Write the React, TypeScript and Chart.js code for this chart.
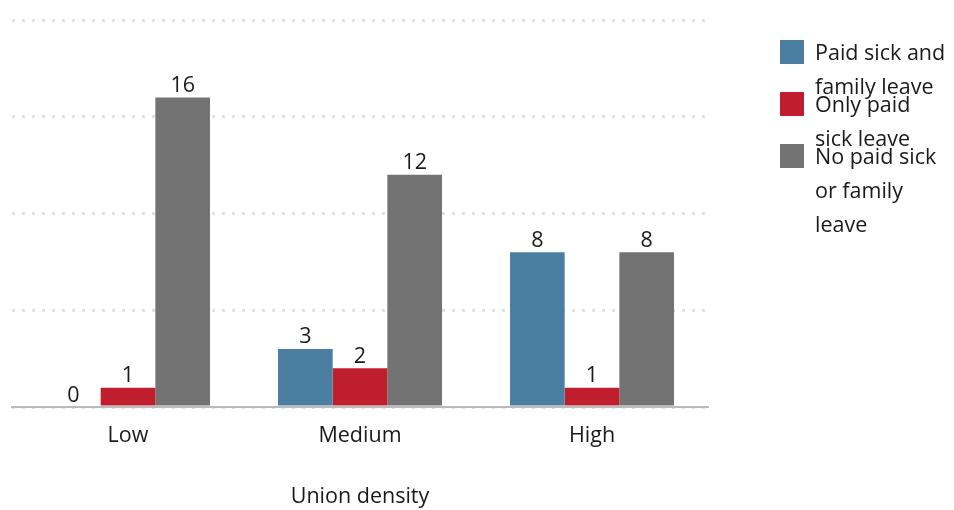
import React, { useEffect, useRef } from "react";
import { Chart, registerables } from "chart.js";

Chart.register(...registerables);

const categories = ["Low", "Medium", "High"];
const paidSickAndFamily = [0, 3, 8];
const onlyPaidSick = [1, 2, 1];
const noPaidLeave = [16, 12, 8];
const seriesNames = ["Paid sick and family leave", "Only paid sick leave", "No paid sick or family leave"];
const legendLines = [["Paid sick and", "family leave"], ["Only paid", "sick leave"], ["No paid sick", "or family", "leave"]];
const colors = ["#4a7fa1", "#bf1e2e", "#737373"];
const axisTitle = "Union density";

const FONT = "'Open Sans', sans-serif";
const TEXT = "#1a1a1a";
const FS = 21.5;

const valueLabels = {
  id: "valueLabels",
  afterDatasetsDraw(chart: any) {
    const ctx = chart.ctx;
    ctx.save();
    ctx.font = `${FS}px ${FONT}`;
    ctx.fillStyle = TEXT;
    ctx.textAlign = "center";
    ctx.textBaseline = "alphabetic";
    chart.data.datasets.forEach((ds: any, di: number) => {
      const meta = chart.getDatasetMeta(di);
      meta.data.forEach((el: any, i: number) => {
        ctx.fillText(String(ds.data[i]), el.x, el.y - 5.5);
      });
    });
    ctx.restore();
  },
};

export default function App() {
  const ref = useRef<HTMLCanvasElement>(null);
  useEffect(() => {
    if (!ref.current) return;
    const chart = new Chart(ref.current, {
      type: "bar",
      data: {
        labels: categories,
        datasets: [
          { label: seriesNames[0], data: paidSickAndFamily, backgroundColor: colors[0] },
          { label: seriesNames[1], data: onlyPaidSick, backgroundColor: colors[1] },
          { label: seriesNames[2], data: noPaidLeave, backgroundColor: colors[2] },
        ],
      },
      options: {
        animation: false,
        responsive: false,
        maintainAspectRatio: false,
        layout: { padding: { left: 12, right: 246, top: 20, bottom: 0 } },
        datasets: { bar: { categoryPercentage: 0.707, barPercentage: 1 } },
        plugins: { legend: { display: false }, tooltip: { enabled: false } },
        scales: {
          x: {
            grid: { display: false, drawTicks: false },
            border: { display: true, color: "#bbbbbb", width: 2 },
            ticks: { color: TEXT, font: { family: FONT, size: FS }, padding: 16 },
            title: { display: true, text: axisTitle, color: TEXT, font: { family: FONT, size: FS }, padding: { top: 0, bottom: 0 } },
            afterFit: (s: any) => { s.height = 103; },
          },
          y: {
            min: 0,
            max: 20,
            ticks: { display: false, stepSize: 5 },
            grid: { color: "#e2e2e2", lineWidth: 3, drawTicks: false },
            border: { display: false, dash: [3, 7] },
            afterFit: (s: any) => { s.width = 0; },
          },
        },
      },
      plugins: [valueLabels],
    } as any);
    return () => chart.destroy();
  }, []);

  return (
    <div style={{ position: "absolute", left: 0, top: 0, width: 954, height: 510, background: "#fff", fontFamily: FONT }}>
      <canvas ref={ref} width={954} height={510} style={{ position: "absolute", left: 0, top: 0, width: 954, height: 510 }} />
      {legendLines.map((lines, i) => (
        <div key={i} style={{ position: "absolute", left: 780, top: 40 + 52 * i, height: 52 }}>
          <div style={{ position: "absolute", left: 0, top: 0, width: 24, height: 24, background: colors[i] }} />
          <div style={{ position: "absolute", left: 35, top: -5, fontSize: FS, lineHeight: "34px", color: TEXT, whiteSpace: "nowrap" }}>
            {lines.map((l, j) => (<div key={j}>{l}</div>))}
          </div>
        </div>
      ))}
    </div>
  );
}
